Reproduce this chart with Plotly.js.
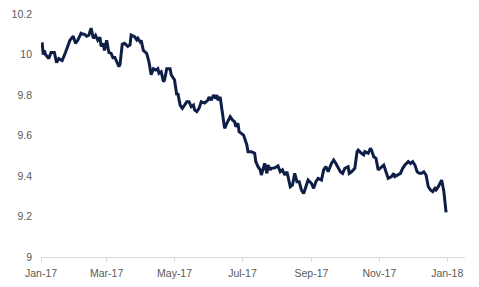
<!DOCTYPE html>
<html>
<head>
<meta charset="utf-8">
<script src="https://cdn.plot.ly/plotly-3.0.1.min.js"></script>
<style>html,body{margin:0;padding:0;background:#fff}#chart{width:479px;height:287px}</style>
</head>
<body>
<div id="chart"></div>
<script>
const dates = [
"2017-01-02","2017-01-03","2017-01-04","2017-01-05","2017-01-08","2017-01-10","2017-01-13","2017-01-15","2017-01-17","2017-01-20",
"2017-01-23","2017-01-25","2017-01-27","2017-01-30","2017-02-01","2017-02-03","2017-02-06","2017-02-08","2017-02-09","2017-02-11",
"2017-02-13","2017-02-15","2017-02-17","2017-02-19","2017-02-21","2017-02-23","2017-02-24","2017-02-26","2017-02-27","2017-03-01",
"2017-03-03","2017-03-05","2017-03-07","2017-03-08","2017-03-10","2017-03-12","2017-03-13","2017-03-15","2017-03-17","2017-03-20",
"2017-03-22","2017-03-23","2017-03-26","2017-03-28","2017-03-29","2017-03-31","2017-04-01","2017-04-03","2017-04-06","2017-04-08",
"2017-04-10","2017-04-12","2017-04-14","2017-04-16","2017-04-17","2017-04-19","2017-04-21","2017-04-22","2017-04-24","2017-04-27",
"2017-04-28","2017-05-01","2017-05-03","2017-05-04","2017-05-06","2017-05-08","2017-05-10","2017-05-12","2017-05-14","2017-05-16",
"2017-05-18","2017-05-19","2017-05-21","2017-05-23","2017-05-25","2017-05-28","2017-05-31","2017-06-01","2017-06-03","2017-06-05",
"2017-06-07","2017-06-08","2017-06-09","2017-06-11","2017-06-12","2017-06-14","2017-06-15","2017-06-17","2017-06-20","2017-06-22",
"2017-06-24","2017-06-25","2017-06-27","2017-06-28","2017-06-30","2017-07-02","2017-07-03","2017-07-05","2017-07-06","2017-07-09",
"2017-07-12","2017-07-13","2017-07-15","2017-07-17","2017-07-18","2017-07-20","2017-07-21","2017-07-23","2017-07-24","2017-07-26",
"2017-07-27","2017-07-30","2017-08-02","2017-08-04","2017-08-06","2017-08-08","2017-08-10","2017-08-13","2017-08-15","2017-08-17",
"2017-08-19","2017-08-21","2017-08-23","2017-08-25","2017-08-27","2017-08-29","2017-09-01","2017-09-03","2017-09-05","2017-09-07",
"2017-09-10","2017-09-12","2017-09-14","2017-09-16","2017-09-19","2017-09-21","2017-09-23","2017-09-25","2017-09-27","2017-09-29",
"2017-10-01","2017-10-04","2017-10-05","2017-10-07","2017-10-09","2017-10-10","2017-10-12","2017-10-13","2017-10-16","2017-10-18",
"2017-10-19","2017-10-22","2017-10-24","2017-10-25","2017-10-27","2017-10-29","2017-10-31","2017-11-02","2017-11-03","2017-11-05",
"2017-11-07","2017-11-09","2017-11-12","2017-11-14","2017-11-15","2017-11-18","2017-11-20","2017-11-22","2017-11-24","2017-11-27",
"2017-11-29","2017-12-01","2017-12-03","2017-12-05","2017-12-07","2017-12-09","2017-12-11","2017-12-13","2017-12-15","2017-12-17",
"2017-12-19","2017-12-21","2017-12-22","2017-12-24","2017-12-26","2017-12-27","2017-12-29","2017-12-30","2017-12-31"
];
const values = [
10.06,10.00,10.02,10.00,9.98,10.01,10.01,9.96,9.98,9.97,
10.01,10.04,10.07,10.09,10.055,10.07,10.105,10.10,10.10,10.09,
10.095,10.13,10.08,10.095,10.07,10.085,10.04,10.055,10.02,10.07,
10.01,10.005,9.98,9.99,9.965,9.94,9.95,10.05,10.055,10.04,
10.047,10.096,10.088,10.072,10.08,10.063,10.07,10.02,10.005,9.964,
9.90,9.93,9.923,9.93,9.907,9.915,9.866,9.874,9.93,9.93,
9.90,9.874,9.80,9.808,9.75,9.734,9.75,9.767,9.767,9.742,
9.75,9.726,9.718,9.734,9.767,9.76,9.775,9.79,9.775,9.80,
9.783,9.80,9.775,9.79,9.75,9.652,9.635,9.66,9.693,9.677,
9.668,9.643,9.66,9.619,9.611,9.602,9.586,9.553,9.52,9.52,
9.512,9.471,9.446,9.43,9.405,9.438,9.462,9.413,9.454,9.43,
9.438,9.44,9.45,9.421,9.43,9.405,9.421,9.347,9.356,9.413,
9.372,9.372,9.331,9.314,9.347,9.38,9.364,9.339,9.372,9.388,
9.38,9.43,9.446,9.421,9.462,9.479,9.462,9.438,9.421,9.413,
9.438,9.446,9.413,9.421,9.43,9.438,9.52,9.528,9.512,9.504,
9.52,9.512,9.537,9.528,9.495,9.487,9.43,9.438,9.446,9.454,
9.421,9.388,9.397,9.413,9.397,9.405,9.413,9.438,9.454,9.471,
9.462,9.471,9.454,9.421,9.413,9.413,9.421,9.405,9.347,9.331,
9.323,9.339,9.331,9.347,9.372,9.38,9.323,9.248,9.22
];
const yTicks = [9, 9.2, 9.4, 9.6, 9.8, 10, 10.2];

const font = {family: "Liberation Sans, Arial, sans-serif", size: 10.5, color: "#595959"};
Plotly.newPlot("chart", [{
  x: dates, y: values, type: "scatter", mode: "lines",
  line: {color: "#0f1e46", width: 3}, hoverinfo: "skip"
}], {
  width: 479, height: 287,
  margin: {l: 41, r: 14, t: 14, b: 30},
  paper_bgcolor: "#fff", plot_bgcolor: "#fff",
  showlegend: false,
  font: font,
  xaxis: {
    type: "date", range: ["2017-01-01", "2018-01-17"],
    tick0: "2017-01-01", dtick: "M2", tickformat: "%b-%y",
    showgrid: false, zeroline: false,
    showline: true, linecolor: "#d9d9d9", linewidth: 1,
    ticks: "outside", ticklen: 4, tickcolor: "#d9d9d9", tickwidth: 1,
    ticklabelstandoff: 2, tickfont: font
  },
  yaxis: {
    range: [9, 10.2], tickvals: yTicks,
    showgrid: false, zeroline: false, showline: false,
    ticks: "", ticklabelstandoff: 8, tickfont: font
  }
}, {staticPlot: true});
</script>
</body>
</html>
